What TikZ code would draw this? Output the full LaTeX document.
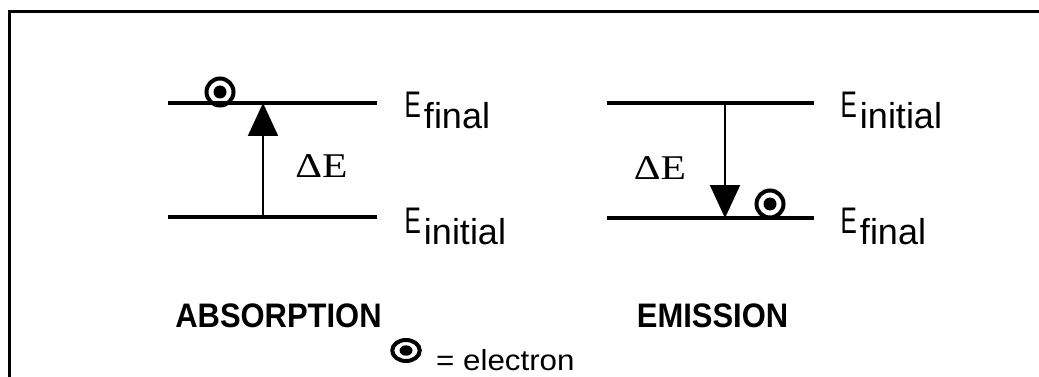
\documentclass[tikz,border=0pt]{standalone}
\usepackage{fontspec}
\setmainfont{Liberation Sans}
\newfontfamily\narrowE[FakeStretch=0.66]{Liberation Sans}
\newfontfamily\titlefont[FakeStretch=0.91]{Liberation Sans}
\newfontfamily\legendfont[FakeStretch=1.08]{Liberation Sans}
\newfontfamily\deltafont[FakeStretch=1.2]{Liberation Serif}
\usetikzlibrary{arrows.meta,shapes.geometric}
\begin{document}
\begin{tikzpicture}[x=1pt,y=-1pt,
  level/.style={line width=4pt},
  trans/.style={line width=2pt,-{Triangle[length=33pt,width=30pt]}},
  electron/.style={circle,draw,line width=4pt,inner sep=0pt,minimum size=27pt,
     path picture={\fill (path picture bounding box.center) circle (6.5pt);}},
  legendelectron/.style={ellipse,draw,line width=4pt,inner sep=0pt,minimum width=27.5pt,minimum height=21pt,
     path picture={\fill (path picture bounding box.center) ellipse (6.5pt and 5.2pt);}},
  elabel/.style={anchor=base west,inner sep=0pt},
  delta/.style={inner sep=0pt,font=\deltafont\fontsize{34.7}{40}\selectfont},
  title/.style={anchor=base,inner sep=0pt,font=\titlefont\bfseries\fontsize{34}{40}\selectfont}
]
\useasboundingbox (0,0) rectangle (1039,377);
% frame
\draw[line width=3pt] (9.5,377) -- (9.5,11.5) -- (1039,11.5);
\newcommand{\elev}[1]{{\narrowE\fontsize{37}{40}\selectfont E}\hspace{3pt}\raisebox{-11pt}{\fontsize{36}{40}\selectfont #1}}
% absorption
\coordinate (a1l) at (168,103);
\coordinate (a1r) at (377,103);
\coordinate (a0l) at (168,217);
\coordinate (a0r) at (377,217);
\draw[level] (a1l) -- (a1r);
\draw[level] (a0l) -- (a0r);
\coordinate (aup) at (263,103);
\coordinate (alo) at (263,217);
\draw[trans] (alo) -- (aup);
\node[electron] (ae) at (220,92) {};
\node[delta] (ade) at (321.5,166.5) {ΔE};
\node[elabel] (af) at (404.5,118) {\elev{final}};
\node[elabel] (ai) at (404.5,233) {\elev{initial}};
\node[title] (at) at (278.5,327) {ABSORPTION};
% emission
\coordinate (e1l) at (607,103);
\coordinate (e1r) at (814,103);
\coordinate (e0l) at (607,218);
\coordinate (e0r) at (814,218);
\draw[level] (e1l) -- (e1r);
\draw[level] (e0l) -- (e0r);
\coordinate (eup) at (725,103);
\coordinate (elo) at (725,218);
\draw[trans] (eup) -- (elo);
\node[electron] (ee) at (770,204) {};
\node[delta] (ede) at (660,168) {ΔE};
\node[elabel] (ei) at (840.5,118) {\elev{initial}};
\node[elabel] (ef) at (840.5,233) {\elev{final}};
\node[title] (et) at (712.5,327) {EMISSION};
% legend
\node[legendelectron] (le) at (406,350.5) {};
\node[elabel,font=\legendfont\fontsize{29}{34}\selectfont] (lt) at (436,370) {= electron};
\end{tikzpicture}
\end{document}
